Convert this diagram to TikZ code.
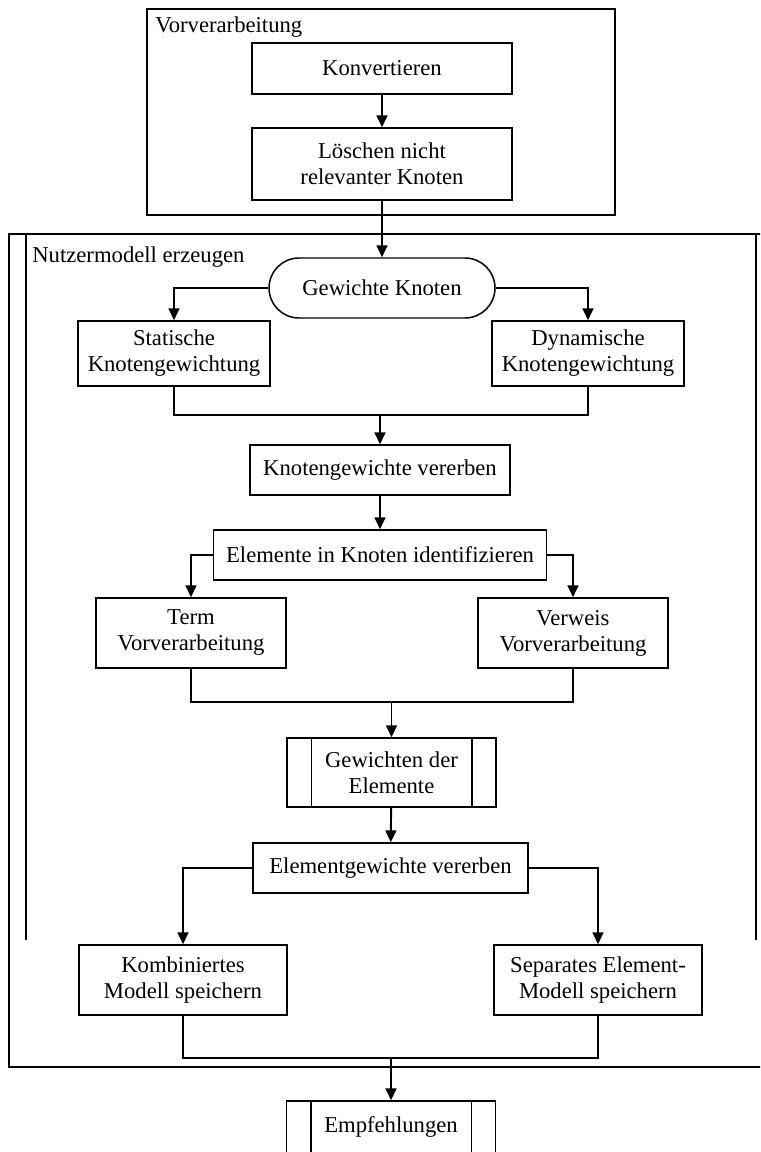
\documentclass[tikz,border=0pt]{standalone}
\usepackage{fontspec}
\setmainfont{Liberation Serif}
\usetikzlibrary{arrows.meta}

\begin{document}
\begin{tikzpicture}[
    font = \fontsize{12.9}{14.8}\selectfont,
    box/.style   = {shape = rectangle, draw = black, line width = 0.85pt, align = center, inner sep = 0pt},
    frame/.style = {draw = black, line width = 0.85pt},
    flow/.style  = {line width = 1.1pt},
    arrow/.style = {flow, -{Triangle[length = 6.8pt, width = 6.2pt]}},
  ]
        \useasboundingbox (0, 0) rectangle (15.2, -23.04);
        \clip (0, 0) rectangle (15.2, -23.04);

        % ------------------------------------------------------------------------
        % Vorverarbeitung
        \draw[frame] (2.94, -0.18) rectangle (12.3, -4.3);
        \node[anchor = base west, inner sep = 0pt] at (3.1, -0.66) (pre) {Vorverarbeitung};

        \node[box, minimum width = 5.2cm, minimum height = 1.02cm] at (7.64, -1.37) (konv) {Konvertieren};
        \node[box, minimum width = 5.2cm, minimum height = 1.44cm] at (7.64, -3.28) (loe) {L\"oschen nicht\\relevanter Knoten};

        % ------------------------------------------------------------------------
        % Nutzermodell erzeugen
        \draw[frame] (15.46, -4.68) -- (0.18, -4.68) -- (0.18, -21.34) -- (15.46, -21.34);
        \draw[frame]
          (0.52, -4.68) -- (0.52, -18.8)
          (15.12, -4.68) -- (15.12, -18.8)
        ;
        \node[anchor = base west, inner sep = 0pt] at (0.64, -5.25) (num) {Nutzermodell erzeugen};

        \node[box, rounded corners = 0.6cm, minimum width = 4.52cm, minimum height = 1.2cm] at (7.64, -5.76) (gk) {Gewichte Knoten};

        \node[box, minimum width = 3.84cm, minimum height = 1.3cm] at (3.48, -7.07) (stat) {Statische\\Knotengewichtung};
        \node[box, minimum width = 3.84cm, minimum height = 1.3cm] at (11.76, -7.07) (dyn) {Dynamische\\Knotengewichtung};
        \coordinate (m1) at (7.6, -8.3);

        \node[box, minimum width = 5.2cm, minimum height = 1.0cm] at (7.6, -9.4) (kgv) {Knotengewichte vererben};
        \node[box, minimum width = 6.66cm, minimum height = 1.0cm] at (7.6, -11.1) (eik) {Elemente in Knoten identifizieren};

        \node[box, minimum width = 3.8cm, minimum height = 1.4cm] at (3.82, -12.66) (term) {Term\\Vorverarbeitung};
        \node[box, minimum width = 3.8cm, minimum height = 1.4cm] at (11.46, -12.66) (verw) {Verweis\\Vorverarbeitung};
        \coordinate (m2) at (7.83, -14.04);

        \node[box, minimum width = 4.18cm, minimum height = 1.38cm] at (7.83, -15.45) (gew) {Gewichten der\\Elemente};
        \draw[frame]
          ([xshift = 0.5cm] gew.north west) -- ([xshift = 0.5cm] gew.south west)
          ([xshift = -0.5cm] gew.north east) -- ([xshift = -0.5cm] gew.south east)
        ;

        \node[box, minimum width = 5.5cm, minimum height = 1.0cm] at (7.81, -17.36) (egv) {Elementgewichte vererben};

        \node[box, minimum width = 4.16cm, minimum height = 1.4cm] at (3.66, -19.6) (komb) {Kombiniertes\\Modell speichern};
        \node[box, minimum width = 4.16cm, minimum height = 1.4cm] at (11.96, -19.6) (sep) {Separates Element-\\Modell speichern};
        \coordinate (m3) at (7.82, -21.16);

        % ------------------------------------------------------------------------
        % Empfehlungen
        \node[box, minimum width = 4.18cm, minimum height = 1.04cm] at (7.82, -22.54) (emp) {Empfehlungen};
        \draw[frame]
          ([xshift = 0.5cm] emp.north west) -- ([xshift = 0.5cm] emp.south west)
          ([xshift = -0.5cm] emp.north east) -- ([xshift = -0.5cm] emp.south east)
        ;

        % ------------------------------------------------------------------------
        % Connectors
        \draw[arrow]
          (konv) edge (loe)
          (loe) edge (gk)
        ;
        \draw[arrow] (gk.west) -| (stat.north);
        \draw[arrow] (gk.east) -| (dyn.north);
        \draw[flow] (stat.south) |- (m1) -| (dyn.south);
        \draw[arrow] (m1) -- (kgv.north);
        \draw[arrow] (kgv) edge (eik);

        \draw[arrow] (eik.west) -| (term.north);
        \draw[arrow] (eik.east) -| (verw.north);
        \draw[flow] (term.south) |- (m2) -| (verw.south);
        \draw[arrow] (m2) -- (gew.north);
        \draw[arrow] (gew) edge (egv);

        \draw[arrow] (egv.west) -| (komb.north);
        \draw[arrow] (egv.east) -| (sep.north);
        \draw[flow] (komb.south) |- (m3) -| (sep.south);
        \draw[arrow] (m3) -- (emp.north);
      \end{tikzpicture}
\end{document}
